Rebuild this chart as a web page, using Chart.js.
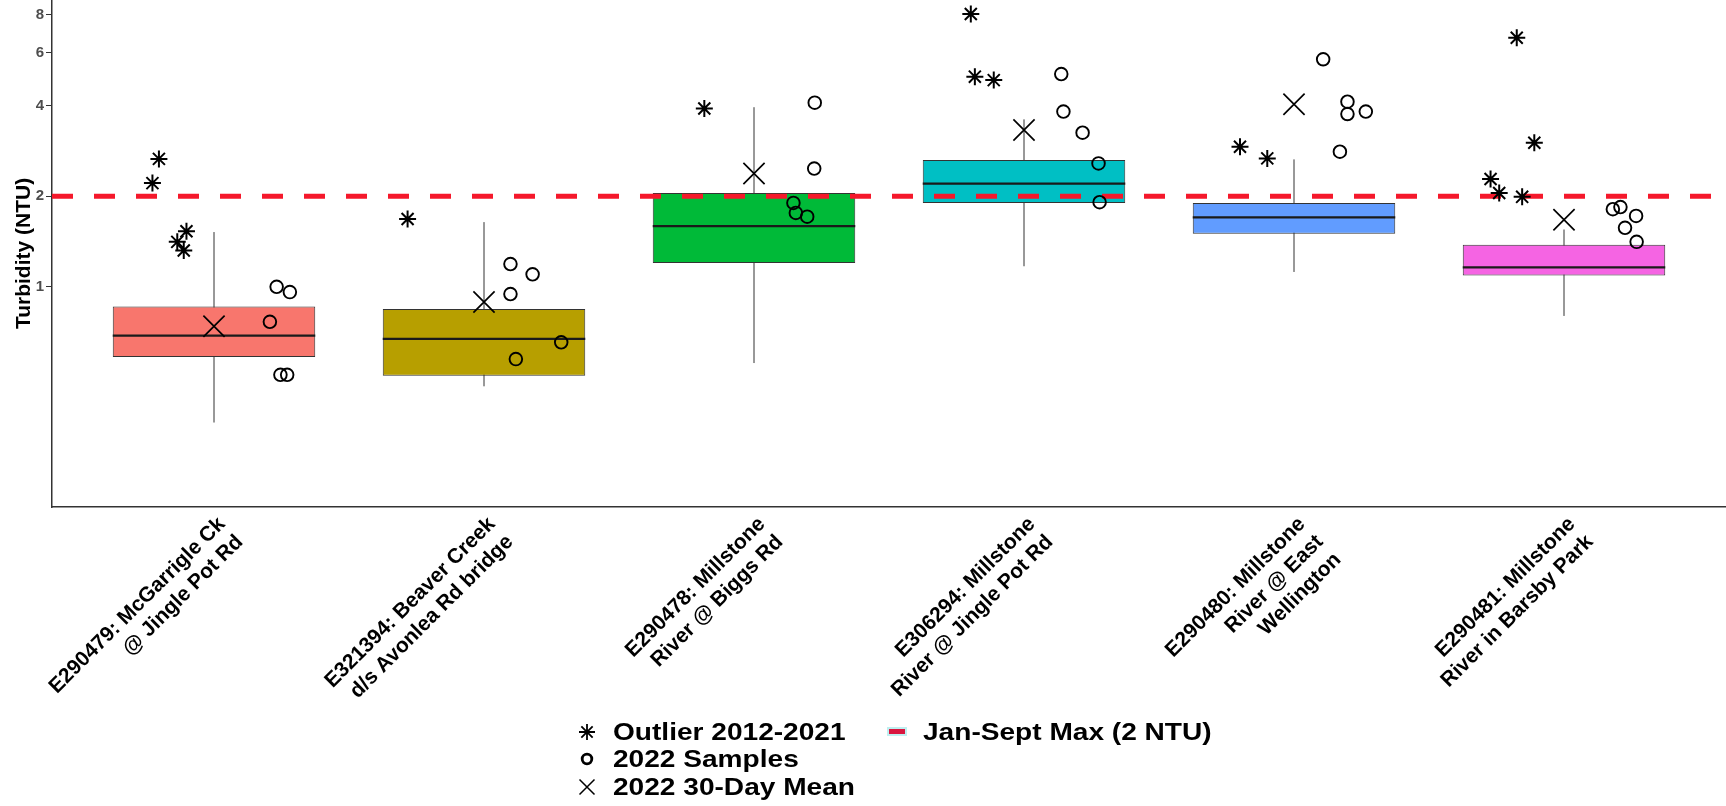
<!DOCTYPE html>
<html>
<head>
<meta charset="utf-8">
<script src="https://cdn.jsdelivr.net/npm/chart.js@4.4.1/dist/chart.umd.min.js"></script>
<style>
  html, body { margin: 0; padding: 0; background: #fff; }
  #wrap { position: relative; width: 1726px; height: 806px; }
</style>
</head>
<body>
<div id="wrap"><canvas id="chart" width="1726" height="806"></canvas></div>
<script>
// sites (x categories), multi-line labels as in the figure
const sites = [
    ['E290479: McGarrigle Ck', '@ Jingle Pot Rd'],
    ['E321394: Beaver Creek', 'd/s Avonlea Rd bridge'],
    ['E290478: Millstone', 'River @ Biggs Rd'],
    ['E306294: Millstone', 'River @ Jingle Pot Rd'],
    ['E290480: Millstone', 'River @ East', 'Wellington'],
    ['E290481: Millstone', 'River in Barsby Park']
];
const boxColors = ['#F8766D', '#B79F00', '#00BA38', '#00BFC4', '#619CFF', '#F564E3'];

// 2012-2021 box stats (NTU)
const whiskerLow  = [0.354, 0.467, 0.558, 1.17, 1.12, 0.80];
const boxQ1       = [0.584, 0.506, 1.20, 1.90, 1.50, 1.09];
const boxMedian   = [0.688, 0.671, 1.59, 2.20, 1.70, 1.16];
const boxQ3       = [0.860, 0.843, 2.05, 2.64, 1.90, 1.38];
const whiskerHigh = [1.52, 1.64, 3.95, 3.60, 2.65, 1.55];

// 2022 30-day mean
const mean2022 = [0.739, 0.89, 2.38, 3.32, 4.04, 1.67];

// outliers 2012-2021: site index, jitter, value
const outlierSite   = [0, 0, 0, 0, 0, 1, 2, 3, 3, 3, 4, 4, 5, 5, 5, 5, 5];
const outlierJitter = [-0.204, -0.228, -0.102, -0.136, -0.112, -0.283, -0.184, -0.197, -0.182, -0.112, -0.200, -0.099, -0.175, -0.110, -0.272, -0.240, -0.155];
const outlierValue  = [2.66, 2.21, 1.53, 1.41, 1.32, 1.68, 3.91, 8.06, 4.99, 4.86, 2.92, 2.67, 6.72, 3.01, 2.28, 2.05, 1.99];

// 2022 samples: site index, jitter, value
const sampleSite   = [0, 0, 0, 0, 0, 1, 1, 1, 1, 1, 2, 2, 2, 2, 2, 3, 3, 3, 3, 3, 4, 4, 4, 4, 4, 5, 5, 5, 5, 5];
const sampleJitter = [0.232, 0.281, 0.207, 0.246, 0.271, 0.098, 0.180, 0.098, 0.286, 0.118, 0.225, 0.223, 0.146, 0.155, 0.197,
                      0.138, 0.146, 0.217, 0.276, 0.280, 0.108, 0.198, 0.198, 0.266, 0.170, 0.181, 0.209, 0.267, 0.226, 0.269];
const sampleValue  = [1.00, 0.96, 0.765, 0.51, 0.51, 1.19, 1.10, 0.946, 0.654, 0.575, 4.09, 2.47, 1.90, 1.76, 1.71,
                      5.09, 3.82, 3.25, 2.57, 1.91, 5.70, 4.12, 3.75, 3.82, 2.81, 1.81, 1.84, 1.72, 1.57, 1.41];

const guideline = 2; // Jan-Sept max, NTU
const yTicks = [1, 2, 4, 6, 8];
const legendLabels = ['Outlier 2012-2021', '2022 Samples', '2022 30-Day Mean', 'Jan-Sept Max (2 NTU)'];

const FONT = "'Liberation Sans', Arial, Helvetica, sans-serif";
Chart.defaults.font.family = FONT;

const halfBox = 0.375;
const boxData = [], whiskerData = [], medianData = [], meanData = [];
sites.forEach((s, i) => {
    boxData.push({x: i, y: [boxQ1[i], boxQ3[i]]});
    whiskerData.push({x: i, y: whiskerLow[i]}, {x: i, y: whiskerHigh[i]}, {x: i, y: null});
    medianData.push({x: i - halfBox, y: boxMedian[i]}, {x: i + halfBox, y: boxMedian[i]}, {x: i + halfBox, y: null});
    meanData.push({x: i, y: mean2022[i]});
});
const outlierData = outlierValue.map((v, k) => ({x: outlierSite[k] + outlierJitter[k], y: v}));
const sampleData = sampleValue.map((v, k) => ({x: sampleSite[k] + sampleJitter[k], y: v}));

// legend block drawn under the axis labels
const legendBlock = {
    id: 'legendBlock',
    afterDraw(chart) {
        const c = chart.ctx;
        const sx = 587, rows = [732, 759, 787];
        c.save();
        c.strokeStyle = '#000';
        c.lineCap = 'butt';
        // asterisk
        c.lineWidth = 1.8;
        c.beginPath();
        for (let k = 0; k < 4; k++) {
            const a = k * Math.PI / 4;
            c.moveTo(sx - 8 * Math.cos(a), rows[0] - 8 * Math.sin(a));
            c.lineTo(sx + 8 * Math.cos(a), rows[0] + 8 * Math.sin(a));
        }
        c.stroke();
        // circle
        c.lineWidth = 2.8;
        c.beginPath();
        c.arc(sx, rows[1], 4.8, 0, Math.PI * 2);
        c.stroke();
        // cross
        c.lineWidth = 1.5;
        c.beginPath();
        c.moveTo(sx - 7.5, rows[2] - 7.5); c.lineTo(sx + 7.5, rows[2] + 7.5);
        c.moveTo(sx + 7.5, rows[2] - 7.5); c.lineTo(sx - 7.5, rows[2] + 7.5);
        c.stroke();
        // guideline key
        c.fillStyle = 'rgba(0,191,196,0.25)';
        c.fillRect(887, 727, 20, 9);
        c.fillStyle = '#D9163F';
        c.fillRect(889, 729, 16, 5);

        c.fillStyle = '#000';
        c.font = 'bold 24px ' + FONT;
        c.textBaseline = 'middle';
        const put = (txt, x, y) => {
            c.save();
            c.translate(x, y);
            c.scale(1.17, 1);
            c.fillText(txt, 0, 1);
            c.restore();
        };
        put(legendLabels[0], 613, rows[0]);
        put(legendLabels[1], 613, rows[1]);
        put(legendLabels[2], 613, rows[2]);
        put(legendLabels[3], 923, rows[0]);
        c.restore();
    }
};

const ctx = document.getElementById('chart').getContext('2d');
const chart = new Chart(ctx, {
    type: 'scatter',
    data: {
        datasets: [
            {
                type: 'scatter',
                label: legendLabels[0],
                data: outlierData,
                pointStyle: 'star',
                pointRadius: 8.5,
                pointBorderWidth: 2,
                pointBorderColor: '#000',
                pointBackgroundColor: '#000',
                order: 0
            },
            {
                type: 'scatter',
                label: legendLabels[1],
                data: sampleData,
                pointStyle: 'circle',
                pointRadius: 6.3,
                pointBorderWidth: 1.9,
                pointBorderColor: '#000',
                pointBackgroundColor: 'rgba(0,0,0,0)',
                order: 1
            },
            {
                type: 'scatter',
                label: legendLabels[2],
                data: meanData,
                pointStyle: 'crossRot',
                pointRadius: 15,
                pointBorderWidth: 1.7,
                pointBorderColor: '#000',
                order: 2
            },
            {
                type: 'line',
                label: legendLabels[3],
                data: [{x: -0.6, y: guideline}, {x: 5.6, y: guideline}],
                borderColor: '#F5182B',
                borderWidth: 5,
                borderDash: [21, 21],
                pointRadius: 0,
                order: 3
            },
            {
                type: 'line',
                label: 'median',
                data: medianData,
                borderColor: '#1a1a1a',
                borderWidth: 2.2,
                pointRadius: 0,
                spanGaps: false,
                order: 4
            },
            {
                type: 'bar',
                label: 'box',
                data: boxData,
                backgroundColor: boxColors,
                borderColor: '#333333',
                borderWidth: 1,
                borderSkipped: false,
                categoryPercentage: 1,
                barPercentage: 0.75,
                order: 5
            },
            {
                type: 'line',
                label: 'whisker',
                data: whiskerData,
                borderColor: '#333333',
                borderWidth: 1,
                pointRadius: 0,
                spanGaps: false,
                order: 6
            }
        ]
    },
    options: {
        responsive: false,
        animation: false,
        layout: { padding: 0, autoPadding: false },
        plugins: {
            legend: { display: false },
            tooltip: { enabled: false }
        },
        scales: {
            x: {
                type: 'linear',
                offset: false,
                min: -0.6,
                max: 5.6,
                afterBuildTicks: s => { s.ticks = sites.map((_, i) => ({value: i})); },
                afterFit: s => { s.height = 299; s.paddingLeft = 0; s.paddingRight = 0; },
                ticks: {
                    autoSkip: false,
                    minRotation: 45,
                    maxRotation: 45,
                    padding: 5,
                    labelOffset: 8,
                    color: '#000',
                    font: { size: 21, weight: 'bold' },
                    callback: v => sites[Math.round(v)]
                },
                grid: { drawOnChartArea: false, drawTicks: false, offset: false },
                border: { color: '#333333', width: 1.5 }
            },
            y: {
                type: 'logarithmic',
                beginAtZero: false,
                min: 0.1855,
                max: 8.97,
                afterBuildTicks: s => { s.ticks = yTicks.map(v => ({value: v})); },
                afterFit: s => { s.width = 52; s.paddingTop = 0; s.paddingBottom = 0; },
                ticks: {
                    autoSkip: false,
                    padding: 2,
                    color: '#4d4d4d',
                    font: { size: 15, weight: 'bold' },
                    callback: v => String(v)
                },
                grid: { drawOnChartArea: false, tickLength: 6, color: '#333333' },
                border: { color: '#333333', width: 1.5 },
                title: {
                    display: true,
                    text: 'Turbidity (NTU)',
                    color: '#000',
                    font: { size: 21, weight: 'bold' },
                    padding: { top: 12, bottom: 0 }
                }
            }
        }
    },
    plugins: [legendBlock]
});
</script>
</body>
</html>
